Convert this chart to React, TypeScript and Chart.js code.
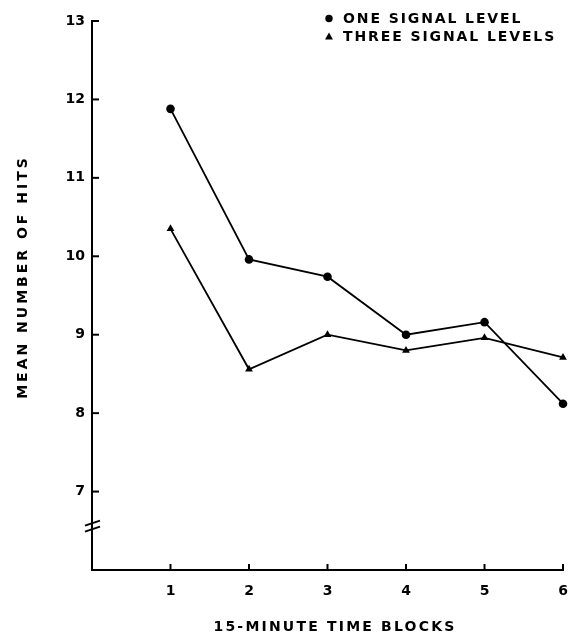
import { useEffect, useRef } from 'react';
import { Chart, registerables } from 'chart.js';

Chart.register(...registerables);

const timeBlocks = [1, 2, 3, 4, 5, 6];
const oneSignalLevel = [11.88, 9.96, 9.74, 9.0, 9.16, 8.12];
const threeSignalLevels = [10.35, 8.56, 9.0, 8.8, 8.96, 8.71];
const yTickValues = [7, 8, 9, 10, 11, 12, 13];
const xTickValues = [1, 2, 3, 4, 5, 6];
const seriesNames = ['ONE SIGNAL LEVEL', 'THREE SIGNAL LEVELS'];
const xTitle = '15-MINUTE TIME BLOCKS';
const yTitle = 'MEAN NUMBER OF HITS';
const breakValue = 6.56;

const FONT = '"DejaVu Sans", sans-serif';

const decorPlugin = {
  id: 'decor',
  afterDraw(chart: any) {
    const { ctx, chartArea } = chart;
    const x = chart.scales.x;
    const y = chart.scales.y;
    ctx.save();
    ctx.strokeStyle = '#000';
    ctx.fillStyle = '#000';
    ctx.lineWidth = 2;
    // y tick marks (inside)
    yTickValues.forEach((v) => {
      const py = y.getPixelForValue(v);
      ctx.beginPath();
      ctx.moveTo(chartArea.left - 1, py);
      ctx.lineTo(chartArea.left + 7, py);
      ctx.stroke();
    });
    // x tick marks (inside, upward)
    xTickValues.forEach((v) => {
      const px = x.getPixelForValue(v);
      ctx.beginPath();
      ctx.moveTo(px, chartArea.bottom + 1);
      ctx.lineTo(px, chartArea.bottom - 6);
      ctx.stroke();
    });
    // axis break
    const by = y.getPixelForValue(breakValue);
    const lx = chartArea.left;
    [-3, 3].forEach((o) => {
      ctx.beginPath();
      ctx.moveTo(lx - 7, by + o + 2.5);
      ctx.lineTo(lx + 8, by + o - 2.5);
      ctx.stroke();
    });
    // axis titles
    ctx.font = `bold 14px ${FONT}`;
    ctx.textBaseline = 'middle';
    ctx.textAlign = 'center';
    (ctx as any).letterSpacing = '2.2px';
    ctx.fillText(xTitle, 335, 627);
    ctx.save();
    ctx.translate(23, 277);
    ctx.rotate(-Math.PI / 2);
    (ctx as any).letterSpacing = '3px';
    ctx.fillText(yTitle, 0, 0);
    ctx.restore();
    // legend
    (ctx as any).letterSpacing = '1.9px';
    ctx.textAlign = 'left';
    const mx = 329;
    const rows = [19, 37];
    ctx.beginPath();
    ctx.arc(mx, rows[0] - 0.5, 3.7, 0, Math.PI * 2);
    ctx.fill();
    ctx.beginPath();
    ctx.moveTo(mx, rows[1] - 4.5);
    ctx.lineTo(mx + 4, rows[1] + 2.5);
    ctx.lineTo(mx - 4, rows[1] + 2.5);
    ctx.closePath();
    ctx.fill();
    ctx.fillText(seriesNames[0], 343, rows[0]);
    ctx.fillText(seriesNames[1], 343, rows[1]);
    ctx.restore();
  },
};

export default function App() {
  const ref = useRef<HTMLCanvasElement | null>(null);
  useEffect(() => {
    document.body.style.margin = '0';
    const canvas = ref.current;
    if (!canvas) return;
    const chart = new Chart(canvas, {
      type: 'line',
      data: {
        datasets: [
          {
            label: seriesNames[0],
            data: timeBlocks.map((t, i) => ({ x: t, y: oneSignalLevel[i] })),
            borderColor: '#000',
            backgroundColor: '#000',
            borderWidth: 1.8,
            pointStyle: 'circle',
            pointRadius: 4.3,
            pointBorderWidth: 0,
            tension: 0,
            clip: false as any,
          },
          {
            label: seriesNames[1],
            data: timeBlocks.map((t, i) => ({ x: t, y: threeSignalLevels[i] })),
            borderColor: '#000',
            backgroundColor: '#000',
            borderWidth: 1.8,
            pointStyle: 'triangle',
            pointRadius: 4.5,
            pointBorderWidth: 0,
            tension: 0,
            clip: false as any,
          },
        ],
      },
      options: {
        responsive: false,
        animation: false,
        devicePixelRatio: 1,
        layout: { padding: { top: 21, right: 12, left: 0, bottom: 0 } },
        plugins: {
          legend: { display: false },
          tooltip: { enabled: false },
        },
        scales: {
          x: {
            type: 'linear',
            min: 0,
            max: 6,
            afterFit: (s: any) => {
              s.height = 64;
              s.paddingLeft = 0;
              s.paddingRight = 0;
            },
            grid: { display: false, drawTicks: false },
            border: { display: true, color: '#000', width: 2 },
            ticks: {
              stepSize: 1,
              padding: 13,
              color: '#000',
              font: { family: FONT, size: 14, weight: 'bold' },
              callback: (v: any) => (v === 0 ? '' : String(v)),
            },
          },
          y: {
            type: 'linear',
            min: 6,
            max: 13,
            afterFit: (s: any) => {
              s.width = 92;
              s.paddingTop = 0;
              s.paddingBottom = 0;
            },
            grid: { display: false, drawTicks: false },
            border: { display: true, color: '#000', width: 2 },
            ticks: {
              stepSize: 1,
              padding: 7,
              color: '#000',
              font: { family: FONT, size: 14, weight: 'bold' },
              callback: (v: any) => (v === 6 ? '' : String(v)),
            },
          },
        },
      },
      plugins: [decorPlugin],
    });
    return () => chart.destroy();
  }, []);
  return (
    <div style={{ width: 575, height: 634, background: '#fff' }}>
      <canvas ref={ref} width={575} height={634} style={{ display: 'block' }} />
    </div>
  );
}
